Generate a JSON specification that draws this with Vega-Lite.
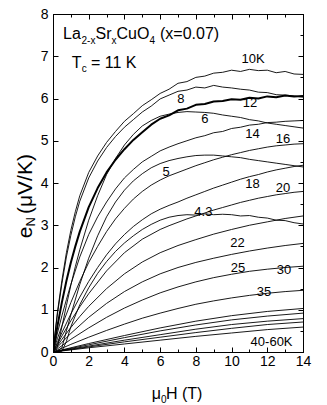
{
"$schema":"https://vega.github.io/schema/vega-lite/v6.json",
"width":250,"height":338,
"autosize":{"type":"none"},
"padding":{"left":53,"top":14,"right":24,"bottom":53},
"config":{"view":{"stroke":"black","strokeWidth":1},"font":"Liberation Sans","text":{"font":"Liberation Sans","color":"black"}},
"datasets":{
"curves":[
{"T":"10","H":0,"e":0},{"T":"10","H":0.1,"e":0.4},{"T":"10","H":0.25,"e":0.95},{"T":"10","H":0.5,"e":1.7},{"T":"10","H":0.75,"e":2.35},{"T":"10","H":1,"e":2.88},{"T":"10","H":1.25,"e":3.32},{"T":"10","H":1.5,"e":3.7},{"T":"10","H":2,"e":4.25},{"T":"10","H":2.5,"e":4.64},{"T":"10","H":3,"e":4.96},{"T":"10","H":3.5,"e":5.22},{"T":"10","H":4,"e":5.46},{"T":"10","H":4.5,"e":5.64},{"T":"10","H":5,"e":5.83},{"T":"10","H":5.5,"e":5.97},{"T":"10","H":6,"e":6.12},{"T":"10","H":6.5,"e":6.22},{"T":"10","H":7,"e":6.36},{"T":"10","H":7.5,"e":6.4},{"T":"10","H":8,"e":6.5},{"T":"10","H":8.5,"e":6.53},{"T":"10","H":9,"e":6.6},{"T":"10","H":9.5,"e":6.62},{"T":"10","H":10,"e":6.67},{"T":"10","H":10.5,"e":6.64},{"T":"10","H":11,"e":6.69},{"T":"10","H":11.5,"e":6.66},{"T":"10","H":12,"e":6.67},{"T":"10","H":12.5,"e":6.61},{"T":"10","H":13,"e":6.64},{"T":"10","H":13.5,"e":6.58},{"T":"10","H":14,"e":6.57},
{"T":"8","H":0,"e":0},{"T":"8","H":0.1,"e":0.38},{"T":"8","H":0.25,"e":0.9},{"T":"8","H":0.5,"e":1.62},{"T":"8","H":0.75,"e":2.25},{"T":"8","H":1,"e":2.76},{"T":"8","H":1.25,"e":3.2},{"T":"8","H":1.5,"e":3.57},{"T":"8","H":2,"e":4.12},{"T":"8","H":2.5,"e":4.52},{"T":"8","H":3,"e":4.84},{"T":"8","H":3.5,"e":5.1},{"T":"8","H":4,"e":5.32},{"T":"8","H":4.5,"e":5.5},{"T":"8","H":5,"e":5.68},{"T":"8","H":5.5,"e":5.82},{"T":"8","H":6,"e":5.99},{"T":"8","H":6.5,"e":6.08},{"T":"8","H":7,"e":6.17},{"T":"8","H":7.5,"e":6.2},{"T":"8","H":8,"e":6.27},{"T":"8","H":8.5,"e":6.25},{"T":"8","H":9,"e":6.31},{"T":"8","H":9.5,"e":6.27},{"T":"8","H":10,"e":6.25},{"T":"8","H":10.5,"e":6.22},{"T":"8","H":11,"e":6.2},{"T":"8","H":11.5,"e":6.15},{"T":"8","H":12,"e":6.14},{"T":"8","H":12.5,"e":6.09},{"T":"8","H":13,"e":6.08},{"T":"8","H":13.5,"e":6.06},{"T":"8","H":14,"e":6.03},
{"T":"12","H":0,"e":0},{"T":"12","H":0.1,"e":0.25},{"T":"12","H":0.25,"e":0.62},{"T":"12","H":0.5,"e":1.18},{"T":"12","H":0.75,"e":1.68},{"T":"12","H":1,"e":2.12},{"T":"12","H":1.25,"e":2.5},{"T":"12","H":1.5,"e":2.85},{"T":"12","H":2,"e":3.43},{"T":"12","H":2.5,"e":3.88},{"T":"12","H":3,"e":4.25},{"T":"12","H":3.5,"e":4.55},{"T":"12","H":4,"e":4.8},{"T":"12","H":4.5,"e":5.02},{"T":"12","H":5,"e":5.2},{"T":"12","H":5.5,"e":5.38},{"T":"12","H":6,"e":5.52},{"T":"12","H":6.5,"e":5.6},{"T":"12","H":7,"e":5.72},{"T":"12","H":7.5,"e":5.76},{"T":"12","H":8,"e":5.85},{"T":"12","H":8.5,"e":5.87},{"T":"12","H":9,"e":5.93},{"T":"12","H":9.5,"e":5.94},{"T":"12","H":10,"e":5.98},{"T":"12","H":10.5,"e":5.97},{"T":"12","H":11,"e":6.02},{"T":"12","H":11.5,"e":6.0},{"T":"12","H":12,"e":6.05},{"T":"12","H":12.5,"e":6.03},{"T":"12","H":13,"e":6.07},{"T":"12","H":13.5,"e":6.05},{"T":"12","H":14,"e":6.06},
{"T":"6","H":0,"e":0},{"T":"6","H":0.25,"e":0.12},{"T":"6","H":0.5,"e":0.6},{"T":"6","H":0.75,"e":1.1},{"T":"6","H":1,"e":1.58},{"T":"6","H":1.25,"e":2.02},{"T":"6","H":1.5,"e":2.42},{"T":"6","H":2,"e":3.12},{"T":"6","H":2.5,"e":3.7},{"T":"6","H":3,"e":4.2},{"T":"6","H":3.5,"e":4.58},{"T":"6","H":4,"e":4.9},{"T":"6","H":4.5,"e":5.15},{"T":"6","H":5,"e":5.35},{"T":"6","H":5.5,"e":5.48},{"T":"6","H":6,"e":5.58},{"T":"6","H":6.5,"e":5.63},{"T":"6","H":7,"e":5.67},{"T":"6","H":7.5,"e":5.69},{"T":"6","H":8,"e":5.68},{"T":"6","H":8.5,"e":5.67},{"T":"6","H":9,"e":5.65},{"T":"6","H":9.5,"e":5.61},{"T":"6","H":10,"e":5.58},{"T":"6","H":10.5,"e":5.55},{"T":"6","H":11,"e":5.5},{"T":"6","H":11.5,"e":5.47},{"T":"6","H":12,"e":5.42},{"T":"6","H":12.5,"e":5.39},{"T":"6","H":13,"e":5.36},{"T":"6","H":13.5,"e":5.33},{"T":"6","H":14,"e":5.3},
{"T":"14","H":0,"e":0},{"T":"14","H":0.25,"e":0.45},{"T":"14","H":0.5,"e":0.86},{"T":"14","H":0.75,"e":1.24},{"T":"14","H":1,"e":1.6},{"T":"14","H":1.5,"e":2.25},{"T":"14","H":2,"e":2.78},{"T":"14","H":2.5,"e":3.2},{"T":"14","H":3,"e":3.55},{"T":"14","H":3.5,"e":3.86},{"T":"14","H":4,"e":4.12},{"T":"14","H":4.5,"e":4.32},{"T":"14","H":5,"e":4.5},{"T":"14","H":5.5,"e":4.63},{"T":"14","H":6,"e":4.76},{"T":"14","H":6.5,"e":4.85},{"T":"14","H":7,"e":4.93},{"T":"14","H":7.5,"e":5.0},{"T":"14","H":8,"e":5.07},{"T":"14","H":8.5,"e":5.12},{"T":"14","H":9,"e":5.19},{"T":"14","H":9.5,"e":5.22},{"T":"14","H":10,"e":5.29},{"T":"14","H":10.5,"e":5.32},{"T":"14","H":11,"e":5.37},{"T":"14","H":11.5,"e":5.39},{"T":"14","H":12,"e":5.43},{"T":"14","H":12.5,"e":5.44},{"T":"14","H":13,"e":5.46},{"T":"14","H":13.5,"e":5.47},{"T":"14","H":14,"e":5.48},
{"T":"5","H":0,"e":0},{"T":"5","H":0.25,"e":0.02},{"T":"5","H":0.5,"e":0.1},{"T":"5","H":0.75,"e":0.5},{"T":"5","H":1,"e":0.88},{"T":"5","H":1.5,"e":1.6},{"T":"5","H":2,"e":2.22},{"T":"5","H":2.5,"e":2.75},{"T":"5","H":3,"e":3.2},{"T":"5","H":3.5,"e":3.55},{"T":"5","H":4,"e":3.83},{"T":"5","H":4.5,"e":4.05},{"T":"5","H":5,"e":4.22},{"T":"5","H":5.5,"e":4.36},{"T":"5","H":6,"e":4.46},{"T":"5","H":6.5,"e":4.53},{"T":"5","H":7,"e":4.58},{"T":"5","H":7.5,"e":4.62},{"T":"5","H":8,"e":4.65},{"T":"5","H":8.5,"e":4.66},{"T":"5","H":9,"e":4.66},{"T":"5","H":9.5,"e":4.64},{"T":"5","H":10,"e":4.62},{"T":"5","H":10.5,"e":4.6},{"T":"5","H":11,"e":4.56},{"T":"5","H":11.5,"e":4.53},{"T":"5","H":12,"e":4.5},{"T":"5","H":12.5,"e":4.47},{"T":"5","H":13,"e":4.44},{"T":"5","H":13.5,"e":4.41},{"T":"5","H":14,"e":4.38},
{"T":"16","H":0,"e":0},{"T":"16","H":0.25,"e":0.32},{"T":"16","H":0.5,"e":0.62},{"T":"16","H":1,"e":1.17},{"T":"16","H":1.5,"e":1.67},{"T":"16","H":2,"e":2.12},{"T":"16","H":2.5,"e":2.5},{"T":"16","H":3,"e":2.85},{"T":"16","H":3.5,"e":3.15},{"T":"16","H":4,"e":3.4},{"T":"16","H":4.5,"e":3.62},{"T":"16","H":5,"e":3.8},{"T":"16","H":5.5,"e":3.95},{"T":"16","H":6,"e":4.07},{"T":"16","H":6.5,"e":4.17},{"T":"16","H":7,"e":4.25},{"T":"16","H":7.5,"e":4.33},{"T":"16","H":8,"e":4.41},{"T":"16","H":8.5,"e":4.48},{"T":"16","H":9,"e":4.55},{"T":"16","H":9.5,"e":4.61},{"T":"16","H":10,"e":4.67},{"T":"16","H":10.5,"e":4.72},{"T":"16","H":11,"e":4.77},{"T":"16","H":11.5,"e":4.81},{"T":"16","H":12,"e":4.85},{"T":"16","H":12.5,"e":4.88},{"T":"16","H":13,"e":4.9},{"T":"16","H":13.5,"e":4.92},{"T":"16","H":14,"e":4.93},
{"T":"18","H":0,"e":0},{"T":"18","H":0.25,"e":0.23},{"T":"18","H":0.5,"e":0.46},{"T":"18","H":1,"e":0.9},{"T":"18","H":1.5,"e":1.3},{"T":"18","H":2,"e":1.67},{"T":"18","H":2.5,"e":2.0},{"T":"18","H":3,"e":2.3},{"T":"18","H":3.5,"e":2.56},{"T":"18","H":4,"e":2.78},{"T":"18","H":4.5,"e":2.97},{"T":"18","H":5,"e":3.13},{"T":"18","H":5.5,"e":3.27},{"T":"18","H":6,"e":3.38},{"T":"18","H":6.5,"e":3.47},{"T":"18","H":7,"e":3.55},{"T":"18","H":7.5,"e":3.64},{"T":"18","H":8,"e":3.72},{"T":"18","H":8.5,"e":3.8},{"T":"18","H":9,"e":3.88},{"T":"18","H":9.5,"e":3.95},{"T":"18","H":10,"e":4.02},{"T":"18","H":10.5,"e":4.09},{"T":"18","H":11,"e":4.15},{"T":"18","H":11.5,"e":4.2},{"T":"18","H":12,"e":4.26},{"T":"18","H":12.5,"e":4.31},{"T":"18","H":13,"e":4.35},{"T":"18","H":13.5,"e":4.39},{"T":"18","H":14,"e":4.42},
{"T":"20","H":0,"e":0},{"T":"20","H":0.5,"e":0.38},{"T":"20","H":1,"e":0.74},{"T":"20","H":1.5,"e":1.07},{"T":"20","H":2,"e":1.38},{"T":"20","H":3,"e":1.92},{"T":"20","H":4,"e":2.35},{"T":"20","H":5,"e":2.67},{"T":"20","H":6,"e":2.9},{"T":"20","H":6.5,"e":2.99},{"T":"20","H":7,"e":3.07},{"T":"20","H":7.5,"e":3.15},{"T":"20","H":8,"e":3.22},{"T":"20","H":8.5,"e":3.29},{"T":"20","H":9,"e":3.36},{"T":"20","H":9.5,"e":3.42},{"T":"20","H":10,"e":3.48},{"T":"20","H":10.5,"e":3.54},{"T":"20","H":11,"e":3.59},{"T":"20","H":11.5,"e":3.64},{"T":"20","H":12,"e":3.68},{"T":"20","H":12.5,"e":3.72},{"T":"20","H":13,"e":3.75},{"T":"20","H":13.5,"e":3.78},{"T":"20","H":14,"e":3.8},
{"T":"4.3","H":0,"e":0},{"T":"4.3","H":0.5,"e":0.02},{"T":"4.3","H":0.75,"e":0.25},{"T":"4.3","H":1,"e":0.6},{"T":"4.3","H":1.5,"e":1.12},{"T":"4.3","H":2,"e":1.52},{"T":"4.3","H":2.5,"e":1.86},{"T":"4.3","H":3,"e":2.14},{"T":"4.3","H":3.5,"e":2.38},{"T":"4.3","H":4,"e":2.58},{"T":"4.3","H":4.5,"e":2.75},{"T":"4.3","H":5,"e":2.9},{"T":"4.3","H":5.5,"e":3.02},{"T":"4.3","H":6,"e":3.12},{"T":"4.3","H":6.5,"e":3.19},{"T":"4.3","H":7,"e":3.23},{"T":"4.3","H":7.5,"e":3.25},{"T":"4.3","H":8,"e":3.24},{"T":"4.3","H":8.5,"e":3.27},{"T":"4.3","H":9,"e":3.25},{"T":"4.3","H":9.5,"e":3.26},{"T":"4.3","H":10,"e":3.25},{"T":"4.3","H":10.5,"e":3.22},{"T":"4.3","H":11,"e":3.23},{"T":"4.3","H":11.5,"e":3.19},{"T":"4.3","H":12,"e":3.17},{"T":"4.3","H":12.5,"e":3.12},{"T":"4.3","H":13,"e":3.11},{"T":"4.3","H":13.5,"e":3.06},{"T":"4.3","H":14,"e":3.03},
{"T":"22","H":0,"e":0},{"T":"22","H":0.5,"e":0.3},{"T":"22","H":1,"e":0.58},{"T":"22","H":1.5,"e":0.84},{"T":"22","H":2,"e":1.08},{"T":"22","H":3,"e":1.5},{"T":"22","H":4,"e":1.85},{"T":"22","H":5,"e":2.13},{"T":"22","H":6,"e":2.35},{"T":"22","H":7,"e":2.52},{"T":"22","H":8,"e":2.66},{"T":"22","H":9,"e":2.79},{"T":"22","H":10,"e":2.9},{"T":"22","H":11,"e":3.0},{"T":"22","H":12,"e":3.08},{"T":"22","H":13,"e":3.16},{"T":"22","H":14,"e":3.22},
{"T":"25","H":0,"e":0},{"T":"25","H":0.5,"e":0.23},{"T":"25","H":1,"e":0.44},{"T":"25","H":2,"e":0.82},{"T":"25","H":3,"e":1.15},{"T":"25","H":4,"e":1.43},{"T":"25","H":5,"e":1.66},{"T":"25","H":6,"e":1.85},{"T":"25","H":7,"e":2.0},{"T":"25","H":8,"e":2.12},{"T":"25","H":9,"e":2.22},{"T":"25","H":10,"e":2.31},{"T":"25","H":11,"e":2.39},{"T":"25","H":12,"e":2.46},{"T":"25","H":13,"e":2.52},{"T":"25","H":14,"e":2.57},
{"T":"30","H":0,"e":0},{"T":"30","H":1,"e":0.3},{"T":"30","H":2,"e":0.57},{"T":"30","H":3,"e":0.82},{"T":"30","H":4,"e":1.04},{"T":"30","H":5,"e":1.23},{"T":"30","H":6,"e":1.4},{"T":"30","H":7,"e":1.54},{"T":"30","H":8,"e":1.66},{"T":"30","H":9,"e":1.76},{"T":"30","H":10,"e":1.84},{"T":"30","H":11,"e":1.91},{"T":"30","H":12,"e":1.96},{"T":"30","H":13,"e":2.0},{"T":"30","H":14,"e":2.03},
{"T":"35","H":0,"e":0},{"T":"35","H":1,"e":0.18},{"T":"35","H":2,"e":0.35},{"T":"35","H":3,"e":0.51},{"T":"35","H":4,"e":0.66},{"T":"35","H":5,"e":0.8},{"T":"35","H":6,"e":0.92},{"T":"35","H":7,"e":1.03},{"T":"35","H":8,"e":1.13},{"T":"35","H":9,"e":1.21},{"T":"35","H":10,"e":1.28},{"T":"35","H":11,"e":1.34},{"T":"35","H":12,"e":1.39},{"T":"35","H":13,"e":1.43},{"T":"35","H":14,"e":1.46},
{"T":"40","H":0,"e":0},{"T":"40","H":2,"e":0.2},{"T":"40","H":4,"e":0.39},{"T":"40","H":6,"e":0.57},{"T":"40","H":8,"e":0.73},{"T":"40","H":10,"e":0.86},{"T":"40","H":12,"e":0.96},{"T":"40","H":14,"e":1.03},
{"T":"45","H":0,"e":0},{"T":"45","H":2,"e":0.17},{"T":"45","H":4,"e":0.34},{"T":"45","H":6,"e":0.5},{"T":"45","H":8,"e":0.64},{"T":"45","H":10,"e":0.76},{"T":"45","H":12,"e":0.85},{"T":"45","H":14,"e":0.92},
{"T":"50","H":0,"e":0},{"T":"50","H":2,"e":0.14},{"T":"50","H":4,"e":0.28},{"T":"50","H":6,"e":0.41},{"T":"50","H":8,"e":0.54},{"T":"50","H":10,"e":0.65},{"T":"50","H":12,"e":0.73},{"T":"50","H":14,"e":0.79},
{"T":"55","H":0,"e":0},{"T":"55","H":2,"e":0.12},{"T":"55","H":4,"e":0.24},{"T":"55","H":6,"e":0.35},{"T":"55","H":8,"e":0.46},{"T":"55","H":10,"e":0.56},{"T":"55","H":12,"e":0.65},{"T":"55","H":14,"e":0.71},
{"T":"60","H":0,"e":0},{"T":"60","H":2,"e":0.1},{"T":"60","H":4,"e":0.19},{"T":"60","H":6,"e":0.28},{"T":"60","H":8,"e":0.37},{"T":"60","H":10,"e":0.45},{"T":"60","H":12,"e":0.53},{"T":"60","H":14,"e":0.59}
],
"labels":[
{"t":"10K","x":11.2,"y":6.94},{"t":"8","x":7.16,"y":6.0},{"t":"12","x":11.03,"y":5.89},{"t":"6","x":8.51,"y":5.51},{"t":"14","x":11.17,"y":5.16},{"t":"16","x":12.88,"y":5.04},{"t":"5","x":6.33,"y":4.26},{"t":"18","x":11.17,"y":3.97},{"t":"20","x":12.88,"y":3.89},{"t":"4.3","x":8.42,"y":3.32},{"t":"22","x":10.33,"y":2.57},{"t":"25","x":10.36,"y":1.98},{"t":"30","x":12.93,"y":1.94},{"t":"35","x":11.81,"y":1.42},{"t":"40-60K","x":12.24,"y":0.24}
],
"big":[
{"t":"La","x":0.56,"y":7.403},{"t":"Sr","x":2.38,"y":7.403},{"t":"CuO","x":3.555,"y":7.403},{"t":"(x=0.07)","x":5.99,"y":7.403},
{"t":"T","x":1.047,"y":6.716},{"t":"= 11 K","x":2.128,"y":6.716},
{"t":"μ","x":5.526,"y":-1.121},{"t":"H (T)","x":6.327,"y":-1.121}
],
"sub":[
{"t":"2-x","x":1.596,"y":7.29},{"t":"x","x":3.275,"y":7.29},{"t":"4","x":5.403,"y":7.29},{"t":"c","x":1.607,"y":6.628},{"t":"0","x":6.047,"y":-1.216}
],
"ybig":[{"t":"e","x":-1.18,"y":2.694},{"t":"(μV/K)","x":-1.18,"y":3.265}],
"ysub":[{"t":"N","x":-1.01,"y":2.968}]
},
"layer":[
{"data":{"name":"curves"},"mark":{"type":"line","strokeJoin":"round","clip":true},
 "encoding":{
  "x":{"field":"H","type":"quantitative","scale":{"domain":[0,14],"nice":false,"zero":false},
   "axis":{"orient":"bottom","values":[0,1,2,3,4,5,6,7,8,9,10,11,12,13,14],"format":"d","labelExpr":"datum.value % 2 === 0 ? datum.label : ''","tickSize":{"condition":{"test":"datum.value % 2 === 0","value":-5},"value":-3},"labelPadding":7,"title":null,"grid":false,"domainColor":"black","tickColor":"black","labelColor":"black","labelFontSize":14,"labelFont":"Liberation Sans","labelFlush":false,"labelOverlap":false}},
  "y":{"field":"e","type":"quantitative","scale":{"domain":[0,8],"nice":false,"zero":false},
   "axis":{"orient":"left","values":[0,0.5,1,1.5,2,2.5,3,3.5,4,4.5,5,5.5,6,6.5,7,7.5,8],"format":"d","labelExpr":"datum.value % 1 === 0 ? datum.label : ''","tickSize":{"condition":{"test":"datum.value % 1 === 0","value":-5},"value":-3},"labelPadding":10,"title":null,"grid":false,"domainColor":"black","tickColor":"black","labelColor":"black","labelFontSize":14,"labelFont":"Liberation Sans","labelFlush":false,"labelOverlap":false}},
  "detail":{"field":"T"},
  "color":{"value":"black"},
  "strokeWidth":{"condition":{"test":"datum.T === '12'","value":2},"value":0.9}
 }},
{"data":{"name":"labels"},"mark":{"type":"text","align":"center","baseline":"middle","fontSize":13,"font":"Liberation Sans"},
 "encoding":{
  "x":{"field":"x","type":"quantitative","axis":{"orient":"top","values":[0,1,2,3,4,5,6,7,8,9,10,11,12,13,14],"labels":false,"tickSize":{"condition":{"test":"datum.value % 2 === 0","value":-5},"value":-3},"title":null,"grid":false,"domainColor":"black","tickColor":"black"}},
  "y":{"field":"y","type":"quantitative","axis":{"orient":"right","values":[0,0.5,1,1.5,2,2.5,3,3.5,4,4.5,5,5.5,6,6.5,7,7.5,8],"labels":false,"tickSize":{"condition":{"test":"datum.value % 1 === 0","value":-5},"value":-3},"title":null,"grid":false,"domainColor":"black","tickColor":"black"}},
  "text":{"field":"t"}
 }},
{"data":{"name":"big"},"mark":{"type":"text","align":"left","baseline":"alphabetic","fontSize":16,"font":"Liberation Sans"},
 "encoding":{"x":{"field":"x","type":"quantitative","axis":null},"y":{"field":"y","type":"quantitative","axis":null},"text":{"field":"t"}}},
{"data":{"name":"sub"},"mark":{"type":"text","align":"left","baseline":"alphabetic","fontSize":10,"font":"Liberation Sans"},
 "encoding":{"x":{"field":"x","type":"quantitative","axis":null},"y":{"field":"y","type":"quantitative","axis":null},"text":{"field":"t"}}},
{"data":{"name":"ybig"},"mark":{"type":"text","align":"left","baseline":"alphabetic","fontSize":21,"angle":270,"font":"Liberation Sans"},
 "encoding":{"x":{"field":"x","type":"quantitative","axis":null},"y":{"field":"y","type":"quantitative","axis":null},"text":{"field":"t"}}},
{"data":{"name":"ysub"},"mark":{"type":"text","align":"left","baseline":"alphabetic","fontSize":13,"angle":270,"font":"Liberation Sans"},
 "encoding":{"x":{"field":"x","type":"quantitative","axis":null},"y":{"field":"y","type":"quantitative","axis":null},"text":{"field":"t"}}}
]
}
